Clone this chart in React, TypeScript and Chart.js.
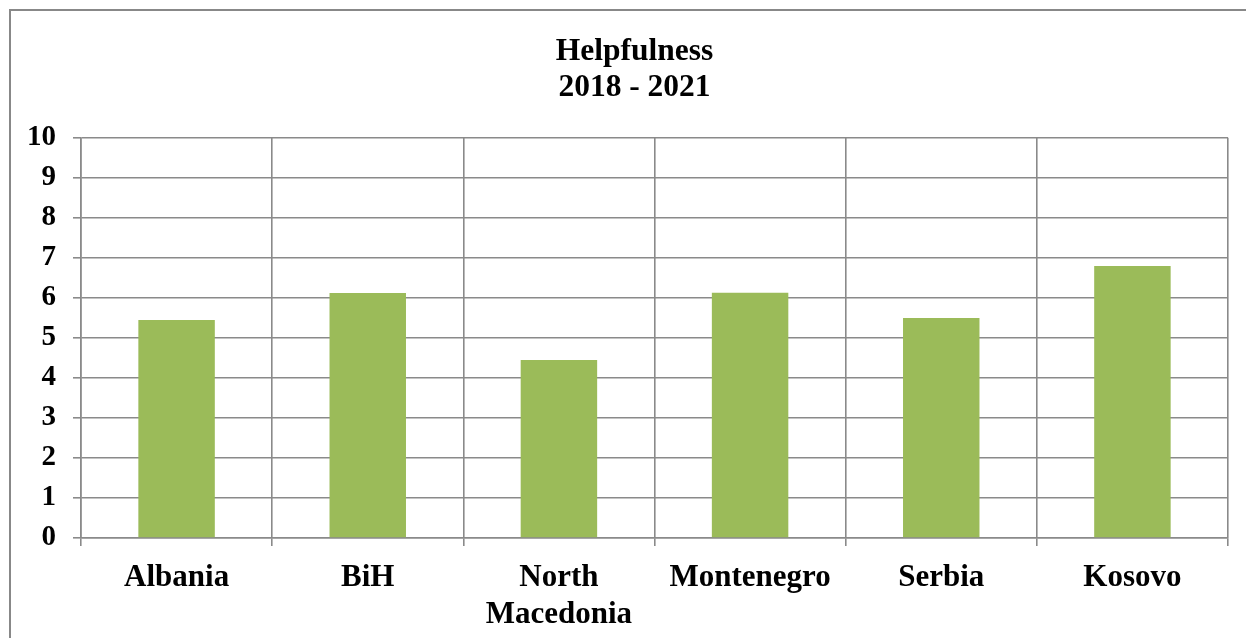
import React, { useEffect, useRef } from "react";
import { Chart, registerables } from "chart.js";

Chart.register(...registerables);

const categories: (string | string[])[] = ["Albania", "BiH", ["North", "Macedonia"], "Montenegro", "Serbia", "Kosovo"];
const values: number[] = [5.45, 6.12, 4.45, 6.13, 5.5, 6.8];
const titleLines: string[] = ["Helpfulness", "2018 - 2021"];
const yTicks = { min: 0, max: 10, step: 1 };

const FONT = "'Liberation Serif', 'Times New Roman', serif";
const GRID = "#8a8a8a";

const shiftTitle = {
  id: "shiftTitle",
  afterLayout(chart: any) {
    const t = chart.titleBlock;
    if (t) {
      t.left += 26;
    }
  },
};

export default function App() {
  const ref = useRef<HTMLCanvasElement | null>(null);
  useEffect(() => {
    if (!ref.current) return;
    const chart = new Chart(ref.current, {
      type: "bar",
      data: {
        labels: categories,
        datasets: [
          {
            data: values,
            backgroundColor: "#9BBB59",
            borderWidth: 0,
            barPercentage: 0.4,
            categoryPercentage: 1,
          },
        ],
      },
      plugins: [shiftTitle],
      options: {
        responsive: false,
        animation: false,
        layout: { padding: { left: 15, right: 18, top: 0, bottom: 0 } },
        plugins: {
          legend: { display: false },
          tooltip: { enabled: false },
          title: {
            display: true,
            text: titleLines,
            color: "#000",
            font: { family: FONT, size: 31.5, weight: "bold", lineHeight: 1.14 },
            padding: { top: 34, bottom: 32 },
          },
        },
        scales: {
          x: {
            offset: true,
            grid: {
              offset: true,
              color: GRID,
              lineWidth: 1.6,
              tickLength: 8,
              drawTicks: true,
            },
            border: { color: GRID, width: 1.6 },
            ticks: {
              color: "#000",
              font: { family: FONT, size: 31, weight: "bold", lineHeight: 1.2 },
              padding: 13,
              maxRotation: 0,
              autoSkip: false,
            },
            afterFit: (s: any) => {
              s.height = 100;
            },
          },
          y: {
            min: yTicks.min,
            max: yTicks.max,
            grid: { color: GRID, lineWidth: 1.6, tickLength: 8 },
            border: { color: GRID, width: 1.6 },
            ticks: {
              stepSize: yTicks.step,
              color: "#000",
              font: { family: FONT, size: 29, weight: "bold" },
              padding: 17,
            },
            afterFit: (s: any) => {
              s.width = 66;
            },
          },
        },
      },
    });
    return () => chart.destroy();
  }, []);
  return (
    <div style={{ position: "fixed", left: 0, top: 0, width: 1246, height: 638, overflow: "hidden", background: "#fff" }}>
      <div
        style={{
          position: "absolute",
          left: 9,
          top: 9,
          width: 1400,
          height: 800,
          border: "2px solid #888",
          boxSizing: "border-box",
        }}
      />
      <canvas ref={ref} width={1246} height={638} style={{ position: "absolute", left: 0, top: 0 }} />
    </div>
  );
}
